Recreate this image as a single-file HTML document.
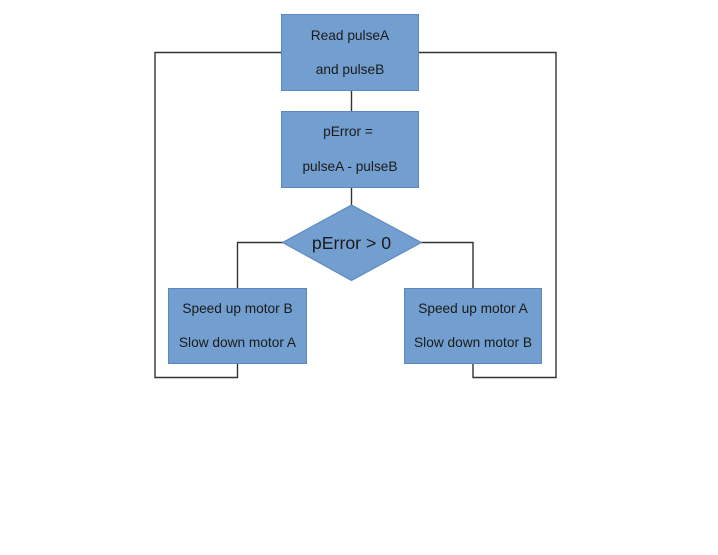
<!DOCTYPE html>
<html><head><meta charset="utf-8"><style>
html,body{margin:0;padding:0;background:#fff;width:718px;height:555px;overflow:hidden}
svg{display:block}
text{font-family:"Liberation Sans",sans-serif;fill:#1a1a1a;text-anchor:middle}
</style></head><body>
<svg width="718" height="555" viewBox="0 0 718 555" xmlns="http://www.w3.org/2000/svg">
<g fill="none" stroke="#333" stroke-width="1.4">
<polyline points="282,52.5 155,52.5 155,377.5 237.5,377.5 237.5,363"/>
<polyline points="419,52.5 556,52.5 556,377.5 473,377.5 473,363"/>
<line x1="351.5" y1="90" x2="351.5" y2="112"/>
<line x1="351.5" y1="187" x2="351.5" y2="206"/>
<polyline points="283,242.5 237.5,242.5 237.5,288"/>
<polyline points="421,242.5 473,242.5 473,288"/>
</g>
<g fill="#729fcf" stroke="#5b87c2" stroke-width="1">
<rect x="281.5" y="14.5" width="137" height="76"/>
<rect x="281.5" y="111.5" width="137" height="76"/>
<polygon points="351.5,205 421.5,242.5 351.5,280.5 282.5,242.5"/>
<rect x="168.5" y="288.5" width="138" height="75"/>
<rect x="404.5" y="288.5" width="137" height="75"/>
</g>
<g font-size="13.7">
<text x="350" y="40">Read pulseA</text>
<text x="350" y="74">and pulseB</text>
<text x="348" y="136">pError =</text>
<text x="350" y="171">pulseA - pulseB</text>
<text x="237.5" y="313">Speed up motor B</text>
<text x="237.5" y="347">Slow down motor A</text>
<text x="473" y="313">Speed up motor A</text>
<text x="473" y="347">Slow down motor B</text>
</g>
<text x="351.5" y="249" font-size="17.7">pError &gt; 0</text>
</svg>
</body></html>
